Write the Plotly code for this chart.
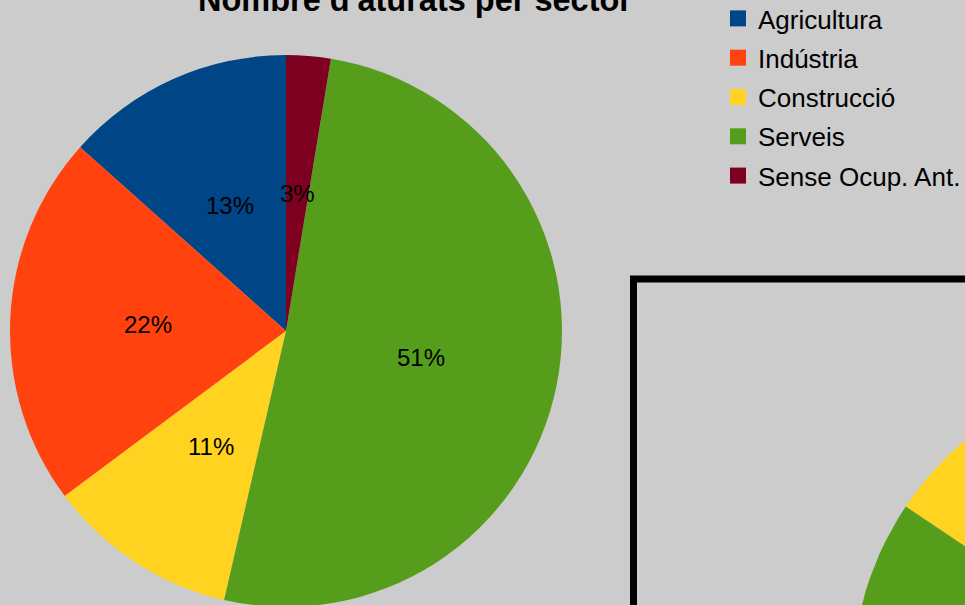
import numpy as np
import plotly.graph_objects as go

W, H = 965, 605          # visible window
FIG_H = 620              # a bit taller so the big pie can run past the bottom edge
BG = "#cccccc"
FONT = "Liberation Sans, Arial, sans-serif"

title = "Nombre d'aturats per sector"
sectors = ["Agricultura", "Indústria", "Construcció", "Serveis", "Sense Ocup. Ant."]
colors = ["#004586", "#ff420e", "#ffd320", "#579d1c", "#7e0021"]
# share of unemployed per sector (%)
aturats = [13.4, 21.8, 11.2, 51.0, 2.6]
# second pie in the framed panel, only a sliver of it is visible
aturats_2 = [4.0, 6.0, 5.6, 80.0, 4.4]

# placement in pixels (figure has no margins, so paper == pixels)
PIE_CX, PIE_CY, PIE_R = 286, 331, 276
PIE2_CX, PIE2_CY, PIE2_R = 1169, 683, 317
FRAME_X, FRAME_Y = 633.5, 279


def slice_angles(values):
    """Start/end angles in degrees, counterclockwise from 12 o'clock."""
    total = float(sum(values))
    ends = np.cumsum(values) / total * 360.0
    starts = np.concatenate([[0.0], ends[:-1]])
    return starts, ends


def polar_px(cx, cy, r, deg):
    a = np.radians(deg)
    return cx - r * np.sin(a), cy - r * np.cos(a)


fig = go.Figure()

# big pie: first slice starts at 12 o'clock and runs counterclockwise
# (plotly ends the first ccw slice at `rotation`, so shift by its width)
first_deg = 360.0 * aturats[0] / sum(aturats)
fig.add_trace(
    go.Pie(
        labels=sectors,
        values=aturats,
        marker={"colors": colors, "line": {"width": 0}},
        sort=False,
        direction="counterclockwise",
        rotation=-first_deg,
        textinfo="none",
        hoverinfo="label+percent",
        showlegend=False,
        domain={
            "x": [(PIE_CX - PIE_R) / W, (PIE_CX + PIE_R) / W],
            "y": [1 - (PIE_CY + PIE_R) / FIG_H, 1 - (PIE_CY - PIE_R) / FIG_H],
        },
    )
)

# second pie, drawn as filled wedges so it can run off the page
starts, ends = slice_angles(aturats_2)
for name, col, a0, a1 in zip(sectors, colors, starts, ends):
    arc = np.linspace(a0, a1, 120)
    ax_, ay_ = polar_px(PIE2_CX, PIE2_CY, PIE2_R, arc)
    xs = np.concatenate([[PIE2_CX], ax_, [PIE2_CX]])
    ys = np.concatenate([[PIE2_CY], ay_, [PIE2_CY]])
    fig.add_trace(
        go.Scatter(
            x=xs, y=ys, mode="lines", fill="toself", fillcolor=col,
            line={"width": 0, "color": col}, showlegend=False, hoverinfo="skip",
        )
    )

# legend entries (one group each so the rows can be spaced out)
for name, col in zip(sectors, colors):
    fig.add_trace(
        go.Scatter(
            x=[None], y=[None], mode="markers", name=name, legendgroup=name,
            marker={"symbol": "square", "size": 16, "color": col},
        )
    )

# percent labels on the big pie, at half radius of each slice
starts, ends = slice_angles(aturats)
total = sum(aturats)
for v, a0, a1 in zip(aturats, starts, ends):
    lx, ly = polar_px(PIE_CX, PIE_CY, PIE_R * 0.5, (a0 + a1) / 2)
    fig.add_annotation(
        x=lx, y=ly, xref="x", yref="y", text=f"{100 * v / total:.0f}%",
        showarrow=False, font={"size": 24, "color": "#000000", "family": FONT},
    )

fig.add_annotation(
    x=415 / W, y=1, xref="paper", yref="paper", text=f"<b>{title}</b>",
    showarrow=False, yanchor="middle", yshift=0,
    font={"size": 32.5, "color": "#000000", "family": FONT},
)

fig.add_shape(
    type="rect", xref="x", yref="y", x0=FRAME_X, y0=FRAME_Y, x1=W + 40, y1=FIG_H + 40,
    line={"color": "#000000", "width": 7},
)

fig.update_layout(
    width=W,
    height=FIG_H,
    margin={"l": 0, "r": 0, "t": 0, "b": 0, "autoexpand": False},
    paper_bgcolor=BG,
    plot_bgcolor=BG,
    font={"family": FONT, "color": "#000000"},
    xaxis={"range": [0, W], "visible": False, "fixedrange": True, "domain": [0, 1]},
    yaxis={"range": [FIG_H, 0], "visible": False, "fixedrange": True, "domain": [0, 1]},
    showlegend=True,
    legend={
        "x": 718 / W, "y": 1 + 5 / FIG_H, "xanchor": "left", "yanchor": "top",
        "font": {"size": 26, "family": FONT}, "bgcolor": "rgba(0,0,0,0)",
        "tracegroupgap": 2.5, "itemclick": False, "itemdoubleclick": False,
    },
)

fig.write_html(
    "out.html",
    config={"displayModeBar": False},
    post_script=(
        "document.body.style.margin='0';"
        "document.body.style.overflow='hidden';"
        "document.body.style.background='#cccccc';"
    ),
)
